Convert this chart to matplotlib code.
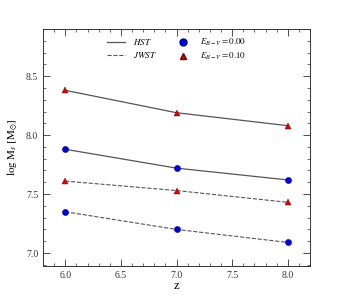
import matplotlib
matplotlib.use("Agg")
import matplotlib.pyplot as plt
from matplotlib.lines import Line2D
from matplotlib.ticker import MultipleLocator

z = [6.0, 7.0, 8.0]
hst_e010 = [8.38, 8.19, 8.08]
hst_e000 = [7.88, 7.72, 7.62]
jwst_e010 = [7.61, 7.53, 7.43]
jwst_e000 = [7.35, 7.20, 7.09]

plt.rcParams['font.family'] = ['Liberation Serif', 'DejaVu Serif']
plt.rcParams['mathtext.fontset'] = 'stix'

fig = plt.figure(figsize=(3.44, 2.95), dpi=100)
ax = fig.add_axes([43/344, 1-266/295, 267/344, 237/295])

lc = '#555555'
ax.plot(z, hst_e010, '-', color=lc, lw=0.9, zorder=1)
ax.plot(z, hst_e000, '-', color=lc, lw=0.9, zorder=1)
ax.plot(z, jwst_e010, '--', color=lc, lw=0.8, zorder=1)
ax.plot(z, jwst_e000, '--', color=lc, lw=0.8, zorder=1)
for d in (hst_e000, jwst_e000):
    ax.plot(z, d, 'o', color='#0000dd', mec='#000088', mew=0.3, ms=4.5, zorder=2)
for d in (hst_e010, jwst_e010):
    ax.plot(z, d, '^', color='#dd0000', mec='#660000', mew=0.3, ms=4.5, zorder=2)

ax.set_xlim(5.8, 8.2)
ax.set_ylim(6.89, 8.9)
ax.xaxis.set_major_locator(MultipleLocator(0.5))
ax.xaxis.set_minor_locator(MultipleLocator(0.1))
ax.yaxis.set_major_locator(MultipleLocator(0.5))
ax.yaxis.set_minor_locator(MultipleLocator(0.1))
ax.tick_params(which='both', direction='in', top=True, right=True, labelsize=7, colors='#333333')
ax.tick_params(which='major', length=5, width=0.6)
ax.tick_params(which='minor', length=2.5, width=0.5)
for s in ax.spines.values():
    s.set_linewidth(0.7)
    s.set_color('#333333')

ax.set_xlabel('z', fontsize=9, labelpad=0)
ax.set_ylabel(r'$\log\,\mathrm{M}_s\;[\mathrm{M}_{\odot}]$', fontsize=8, labelpad=4)

handles = [
    Line2D([], [], color=lc, ls='-', lw=0.9),
    Line2D([], [], color=lc, ls='--', lw=0.8),
    Line2D([], [], marker='o', ls='', color='#0000dd', mec='#000088', ms=5),
    Line2D([], [], marker='^', ls='', color='#dd0000', mec='#660000', ms=5),
]
labels = [r'$HST$', r'$JWST$', r'$E_{B-V}=0.00$', r'$E_{B-V}=0.10$']
ax.legend(handles, labels, ncol=2, frameon=False, fontsize=6.5, loc='upper center',
          bbox_to_anchor=(0.5, 1.0), handlelength=2.0, columnspacing=2.0,
          handletextpad=0.8, labelspacing=0.3)

fig.savefig('out.png', dpi=100)
